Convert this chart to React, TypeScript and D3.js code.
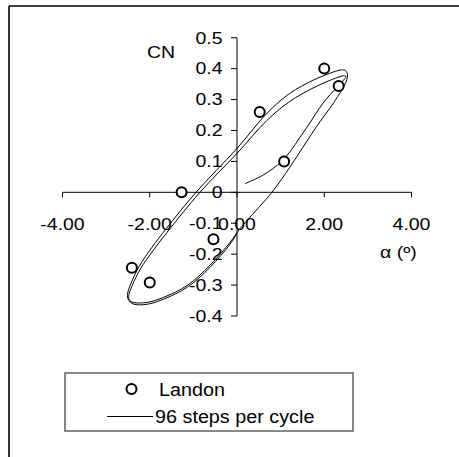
import React from "react";
import * as d3 from "d3";

// Axis ticks
const alphaTicks = [-4, -2, 0, 2, 4];
const alphaTickLabels = ["-4.00", "-2.00", "0.00", "2.00", "4.00"];
const cnTicks = [0.5, 0.4, 0.3, 0.2, 0.1, 0, -0.1, -0.2, -0.3, -0.4];
const cnTickLabels = ["0.5", "0.4", "0.3", "0.2", "0.1", "0", "-0.1", "-0.2", "-0.3", "-0.4"];

// Experimental data (Landon)
const landonAlpha = [-2.41, -2.0, -1.27, -0.54, 0.52, 1.08, 2.0, 2.33];
const landonCN = [-0.244, -0.292, 0.0, -0.152, 0.26, 0.1, 0.4, 0.344];

// Simulation, 96 steps per cycle (two cycles, from start-up)
const simAlpha = [
  0.18, 0.59, 1.05, 1.6, 1.97, 2.29, 2.45, 2.5, 2.44, 2.36, 2.13, 1.74, 1.21, 0.69, 0.0, -0.85,
  -1.6, -1.92, -2.22, -2.4, -2.48, -2.47, -2.38, -2.06, -1.69, -1.14, -0.62, -0.16, 0.07, 0.23,
  0.8, 1.21, 1.6, 1.9, 2.13, 2.31, 2.45, 2.52, 2.53, 2.47, 2.36, 2.13, 1.74, 1.21, 0.69, 0.0,
  -0.94, -1.62, -1.95, -2.24, -2.43, -2.51, -2.49, -2.38, -2.06, -1.69, -1.14, -0.62, -0.16, 0.0,
];
const simCN = [
  0.028, 0.055, 0.104, 0.21, 0.288, 0.34, 0.364, 0.374, 0.377, 0.374, 0.362, 0.337, 0.294, 0.233,
  0.126, 0.0, -0.129, -0.188, -0.249, -0.301, -0.333, -0.348, -0.356, -0.356, -0.34, -0.301,
  -0.236, -0.162, -0.117, -0.091,
  0.0, 0.081, 0.165, 0.228, 0.272, 0.31, 0.342, 0.366, 0.385, 0.395, 0.395, 0.385, 0.362, 0.32,
  0.256, 0.142, 0.0, -0.117, -0.178, -0.239, -0.294, -0.33, -0.347, -0.361, -0.362, -0.346,
  -0.307, -0.243, -0.168, -0.133,
];

const FONT = "'Liberation Sans', Arial, Helvetica, sans-serif";

const x = d3.scaleLinear().domain([-4, 4]).range([62.5, 411.5]);
const y = d3.scaleLinear().domain([-0.4, 0.5]).range([316, 37.7]);

function Label(props: {
  x: number;
  y: number;
  text: string;
  anchor?: "start" | "middle" | "end";
  size?: number;
  sx?: number;
}) {
  const { text, anchor = "start", size = 16.5, sx = 1.18 } = props;
  return (
    <g transform={`translate(${props.x},${props.y}) scale(${sx},1)`}>
      <text x={0} y={0} textAnchor={anchor} fontFamily={FONT} fontSize={size} fill="#000">
        {text}
      </text>
    </g>
  );
}

export default function App() {
  const simPoints: [number, number][] = simAlpha.map((a, i) => [a, simCN[i]]);
  const line = d3
    .line<[number, number]>()
    .x((d) => x(d[0]))
    .y((d) => y(d[1]))
    .curve(d3.curveCatmullRom.alpha(0.5));

  const x0 = x(0);
  const y0 = y(0);

  return (
    <svg
      width={459}
      height={457}
      style={{ position: "absolute", left: 0, top: 0, background: "#fff" }}
    >
      {/* chart frame */}
      <line x1={9} y1={6} x2={9} y2={457} stroke="#000" strokeWidth={1.6} />
      <line x1={9} y1={6} x2={459} y2={6} stroke="#000" strokeWidth={1.6} />

      {/* x axis */}
      <line x1={x(-4)} y1={y0} x2={x(4)} y2={y0} stroke="#000" strokeWidth={1} />
      {alphaTicks.map((t) => (
        <line key={"xt" + t} x1={x(t)} x2={x(t)} y1={y0} y2={y0 + 5} stroke="#000" strokeWidth={1} />
      ))}
      {/* y axis */}
      <line x1={x0} y1={y(0.5)} x2={x0} y2={y(-0.4)} stroke="#000" strokeWidth={1} />
      {cnTicks.map((t) => (
        <line key={"yt" + t} x1={x0 - 6} x2={x0} y1={y(t)} y2={y(t)} stroke="#000" strokeWidth={1} />
      ))}

      {/* simulation curve */}
      <path d={line(simPoints) ?? ""} fill="none" stroke="#000" strokeWidth={1} />

      {/* experimental points */}
      {landonAlpha.map((a, i) => (
        <circle
          key={"p" + i}
          cx={x(a)}
          cy={y(landonCN[i])}
          r={5}
          fill="#fff"
          stroke="#000"
          strokeWidth={2}
        />
      ))}

      {/* tick labels */}
      {cnTicks.map((t, i) => (
        <Label key={"yl" + t} x={222.5} y={y(t) + 5.8} text={cnTickLabels[i]} anchor="end" />
      ))}
      {alphaTicks.map((t, i) => (
        <Label key={"xl" + t} x={x(t)} y={230} text={alphaTickLabels[i]} anchor="middle" />
      ))}

      {/* axis titles */}
      <Label x={147} y={58} text="CN" />
      <Label x={380} y={258} text="α (º)" />

      {/* legend */}
      <rect x={65} y={373} width={288} height={58} fill="#fff" stroke="#606060" strokeWidth={1.5} />
      <circle cx={131.5} cy={389} r={5} fill="#fff" stroke="#000" strokeWidth={2} />
      <Label x={159} y={395.7} text="Landon" size={18.5} sx={1.07} />
      <line x1={107} x2={153} y1={416.5} y2={416.5} stroke="#000" strokeWidth={1} />
      <Label x={155} y={423} text="96 steps per cycle" size={18.5} sx={1.07} />
    </svg>
  );
}
